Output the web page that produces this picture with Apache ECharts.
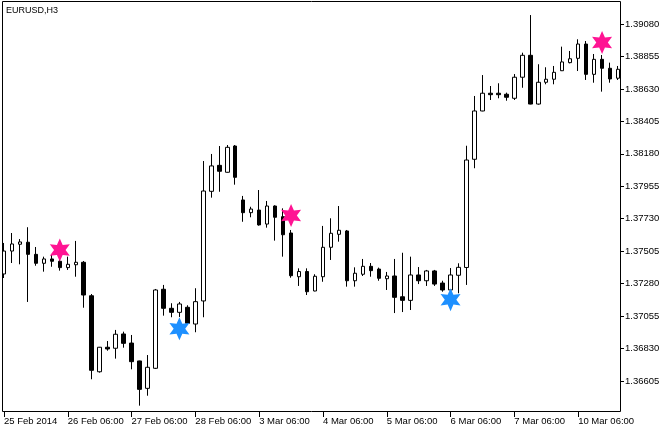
<!DOCTYPE html>
<html>
<head>
<meta charset="utf-8">
<script src="https://cdn.jsdelivr.net/npm/echarts@6/dist/echarts.min.js"></script>
<style>
html,body{margin:0;padding:0;background:#fff;}
#c{width:672px;height:432px;}
</style>
</head>
<body>
<div id="c"></div>
<script>
const categories = [
"25 Feb 06:00","25 Feb 09:00","25 Feb 12:00","25 Feb 15:00","25 Feb 18:00","25 Feb 21:00",
"26 Feb 00:00","26 Feb 03:00","26 Feb 06:00","26 Feb 09:00","26 Feb 12:00","26 Feb 15:00","26 Feb 18:00","26 Feb 21:00",
"27 Feb 00:00","27 Feb 03:00","27 Feb 06:00","27 Feb 09:00","27 Feb 12:00","27 Feb 15:00","27 Feb 18:00","27 Feb 21:00",
"28 Feb 00:00","28 Feb 03:00","28 Feb 06:00","28 Feb 09:00","28 Feb 12:00","28 Feb 15:00","28 Feb 18:00","28 Feb 21:00",
"3 Mar 00:00","3 Mar 03:00","3 Mar 06:00","3 Mar 09:00","3 Mar 12:00","3 Mar 15:00","3 Mar 18:00","3 Mar 21:00",
"4 Mar 00:00","4 Mar 03:00","4 Mar 06:00","4 Mar 09:00","4 Mar 12:00","4 Mar 15:00","4 Mar 18:00","4 Mar 21:00",
"5 Mar 00:00","5 Mar 03:00","5 Mar 06:00","5 Mar 09:00","5 Mar 12:00","5 Mar 15:00","5 Mar 18:00","5 Mar 21:00",
"6 Mar 00:00","6 Mar 03:00","6 Mar 06:00","6 Mar 09:00","6 Mar 12:00","6 Mar 15:00","6 Mar 18:00","6 Mar 21:00",
"7 Mar 00:00","7 Mar 03:00","7 Mar 06:00","7 Mar 09:00","7 Mar 12:00","7 Mar 15:00","7 Mar 18:00","7 Mar 21:00",
"10 Mar 00:00","10 Mar 03:00","10 Mar 06:00","10 Mar 09:00","10 Mar 12:00","10 Mar 15:00","10 Mar 18:00","10 Mar 21:00"
];
const tickLabels = ["25 Feb 2014","26 Feb 06:00","27 Feb 06:00","28 Feb 06:00","3 Mar 06:00","4 Mar 06:00","5 Mar 06:00","6 Mar 06:00","7 Mar 06:00","10 Mar 06:00"];

const opens = [
1.37347,1.37506,1.37553,1.37567,1.37483,1.37421,1.37451,1.37435,1.37391,1.37411,
1.37428,1.37196,1.36669,1.36839,1.36832,1.36931,1.36868,1.36744,1.36554,1.36693,
1.37241,1.37109,1.37081,1.37116,1.37000,1.37160,1.37920,1.38100,1.38052,1.38234,
1.37860,1.37772,1.37790,1.37693,1.37818,1.37744,1.37631,1.37328,1.37364,1.37229,
1.37328,1.37532,1.37622,1.37645,1.37300,1.37345,1.37400,1.37381,1.37314,1.37333,
1.37189,1.37164,1.37340,1.37300,1.37368,1.37284,1.37236,1.37338,1.37392,1.38142,
1.38477,1.38600,1.38600,1.38593,1.38565,1.38711,1.38863,1.38525,1.38676,1.38697,
1.38756,1.38812,1.38842,1.38941,1.38731,1.38835,1.38773,1.38704
];
const closes = [
1.37506,1.37555,1.37569,1.37483,1.37421,1.37451,1.37435,1.37391,1.37414,1.37428,
1.37201,1.36679,1.36839,1.36827,1.36929,1.36866,1.36739,1.36547,1.36700,1.37236,
1.37109,1.37081,1.37139,1.37005,1.37155,1.37922,1.38096,1.38059,1.38225,1.38017,
1.37772,1.37797,1.37687,1.37818,1.37740,1.37619,1.37335,1.37364,1.37224,1.37331,
1.37532,1.37629,1.37650,1.37300,1.37352,1.37400,1.37370,1.37317,1.37333,1.37185,
1.37164,1.37340,1.37300,1.37368,1.37277,1.37236,1.37340,1.37393,1.38137,1.38477,
1.38600,1.38590,1.38590,1.38572,1.38711,1.38863,1.38525,1.38676,1.38697,1.38745,
1.38817,1.38839,1.38941,1.38731,1.38835,1.38773,1.38699,1.38766
];
const lows = [
1.37319,1.37423,1.37414,1.37153,1.37404,1.37363,1.37397,1.37370,1.37375,1.37328,
1.37113,1.36617,1.36663,1.36815,1.36760,1.36836,1.36686,1.36434,1.36503,1.36688,
1.37058,1.37047,1.37049,1.36993,1.36943,1.37047,1.37876,1.37917,1.38050,1.37966,
1.37709,1.37740,1.37682,1.37668,1.37578,1.37467,1.37321,1.37264,1.37201,1.37227,
1.37293,1.37444,1.37571,1.37259,1.37259,1.37333,1.37328,1.37300,1.37236,1.37076,
1.37083,1.37097,1.37277,1.37264,1.37264,1.37224,1.37222,1.37213,1.37271,1.38080,
1.38475,1.38553,1.38565,1.38548,1.38553,1.38638,1.38523,1.38521,1.38662,1.38662,
1.38754,1.38807,1.38754,1.38692,1.38673,1.38611,1.38673,1.38692
];
const highs = [
1.37562,1.37631,1.37589,1.37671,1.37534,1.37467,1.37483,1.37458,1.37467,1.37576,
1.37437,1.37208,1.36841,1.36882,1.36959,1.36947,1.36924,1.36746,1.36785,1.37243,
1.37271,1.37144,1.37153,1.37130,1.37248,1.38130,1.38179,1.38234,1.38241,1.38241,
1.37888,1.37813,1.37929,1.37853,1.37823,1.37802,1.37652,1.37386,1.37386,1.37345,
1.37680,1.37733,1.37818,1.37652,1.37393,1.37451,1.37423,1.37391,1.37361,1.37451,
1.37494,1.37467,1.37395,1.37375,1.37375,1.37300,1.37388,1.37421,1.38236,1.38581,
1.38726,1.38650,1.38669,1.38604,1.38733,1.38881,1.39142,1.38801,1.38780,1.38789,
1.38923,1.38893,1.38974,1.38962,1.38872,1.38865,1.38812,1.38789
];

const sellStarIndex = [7, 36, 75];
const sellStarPrice = [1.37513, 1.37752, 1.38952];
const buyStarIndex = [22, 56];
const buyStarPrice = [1.36967, 1.37169];

// axis helpers: prices are shown relative to a base so that ticks fall on the axis min
const BASE_PRICE = 1.36380;
const TICK_STEP = 225;      // 0.00225 in points
const AXIS_TOP = 2852.5;    // 1.392325 in points
const toPts = p => Math.round((p - BASE_PRICE) * 1e6) / 10;

function starPath() {
  const R = 10, r = 5;
  let d = '';
  for (let i = 0; i < 12; i++) {
    const a = (-90 + 30 * i) * Math.PI / 180;
    const rad = i % 2 === 0 ? R : r;
    const x = (R + rad * Math.cos(a)).toFixed(3);
    const y = (R + rad * Math.sin(a)).toFixed(3);
    d += (i === 0 ? 'M' : 'L') + x + ' ' + y + ' ';
  }
  return 'path://' + d + 'Z';
}
const STAR = starPath();

const candleData = opens.map((o, i) => [toPts(o), toPts(closes[i]), toPts(lows[i]), toPts(highs[i])]);
const sellData = sellStarIndex.map((ix, i) => [ix, toPts(sellStarPrice[i])]);
const buyData = buyStarIndex.map((ix, i) => [ix, toPts(buyStarPrice[i])]);

const FONT = '"Liberation Sans", Arial, sans-serif';

const chart = echarts.init(document.getElementById('c'), null, {renderer: 'canvas'});
chart.setOption({
  animation: false,
  backgroundColor: '#ffffff',
  grid: {left: -2, right: 50, top: 2, bottom: 18.55, containLabel: false},
  xAxis: {
    type: 'category',
    data: categories,
    boundaryGap: true,
    offset: -1.45,
    axisLine: {show: false},
    axisTick: {show: true, interval: 7, alignWithLabel: true, length: 5, lineStyle: {color: '#000', width: 1}},
    axisLabel: {
      interval: 7, align: 'left', margin: 4, color: '#000', fontFamily: FONT, fontSize: 9.5,
      formatter: (v, idx) => (idx % 8 === 0 ? tickLabels[idx / 8] : '')
    },
    splitLine: {show: false}
  },
  yAxis: {
    type: 'value',
    position: 'right',
    offset: -2,
    min: 0,
    max: AXIS_TOP,
    interval: TICK_STEP,
    scale: false,
    axisLine: {show: false},
    axisTick: {show: true, length: 4, lineStyle: {color: '#000', width: 1}},
    axisLabel: {
      margin: 5, color: '#000', fontFamily: FONT, fontSize: 9.5,
      showMinLabel: false, showMaxLabel: false,
      formatter: v => ((v / 1e5) + BASE_PRICE).toFixed(5)
    },
    splitLine: {show: false}
  },
  graphic: [
    {type: 'rect', z: 100, silent: true,
     shape: {x: 2.5, y: 1.5, width: 618, height: 410},
     style: {fill: 'none', stroke: '#000', lineWidth: 1}},
    {type: 'text', z: 100, left: 6, top: 6,
     style: {text: 'EURUSD,H3', fill: '#000', font: '9px ' + FONT}}
  ],
  series: [
    {
      type: 'candlestick',
      data: candleData,
      barWidth: 4,
      itemStyle: {color: '#ffffff', color0: '#000000', borderColor: '#000000', borderColor0: '#000000', borderWidth: 1},
      z: 2
    },
    {
      type: 'scatter',
      data: sellData,
      symbol: STAR,
      symbolSize: [20, 23],
      itemStyle: {color: '#FF1493', opacity: 1},
      z: 5
    },
    {
      type: 'scatter',
      data: buyData,
      symbol: STAR,
      symbolSize: [20, 23],
      itemStyle: {color: '#1E90FF', opacity: 1},
      z: 5
    }
  ]
});
</script>
</body>
</html>
